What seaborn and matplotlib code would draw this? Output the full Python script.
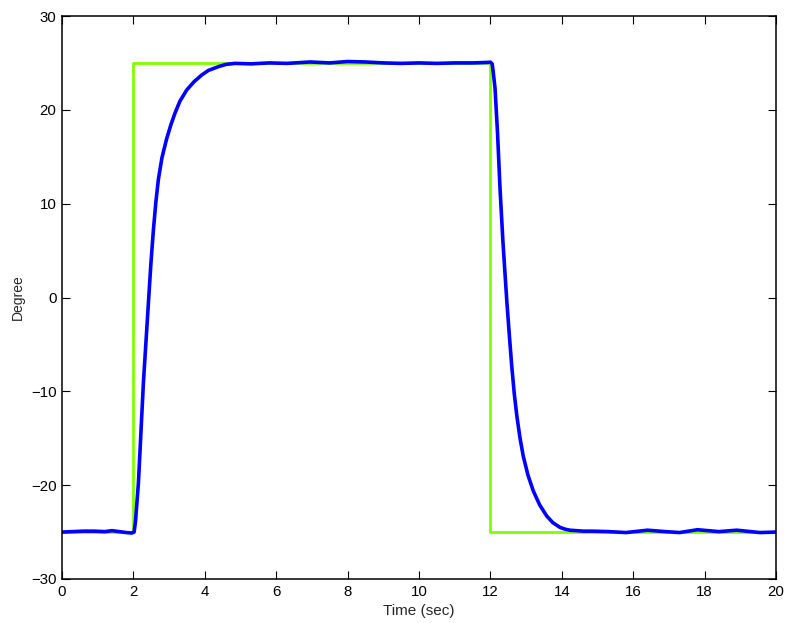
import matplotlib
matplotlib.use("Agg")
import matplotlib.pyplot as plt
import seaborn as sns
import pandas as pd

# Reference (step) signal
ref_time = [0, 2, 2, 12, 12, 20]
ref_deg = [-25, -25, 25, 25, -25, -25]

resp_time = [0, 0.3, 0.6, 0.9, 1.2, 1.4, 1.6, 1.8, 1.95, 2.02, 2.06, 2.14, 2.28,
             2.42, 2.49, 2.56, 2.63, 2.70, 2.80, 2.93, 3.05, 3.16, 3.3, 3.49,
             3.7, 3.91, 4.1, 4.38, 4.6, 4.85, 5.3, 5.8, 6.3, 6.95, 7.5, 8.0,
             8.5, 9.0, 9.5, 10.0, 10.5, 11.0, 11.5, 11.9, 12.0, 12.05, 12.08,
             12.13, 12.2, 12.27, 12.35, 12.46, 12.53, 12.60, 12.67, 12.74, 12.83,
             12.92, 13.05, 13.20, 13.38, 13.58, 13.75, 13.95, 14.1, 14.23, 14.6,
             14.87, 15.3, 15.8, 16.4, 16.9, 17.3, 17.8, 18.4, 18.9, 19.55, 20.0]
resp_deg = [-25.0, -24.95, -24.9, -24.9, -24.95, -24.85, -24.95, -25.05, -25.1,
            -25.0, -23.8, -19.8, -9.1, -0.6, 3.6, 7.2, 10.2, 12.6, 14.9, 16.9,
            18.4, 19.6, 20.9, 22.1, 23.0, 23.7, 24.2, 24.6, 24.85, 24.95, 24.9,
            25.0, 24.95, 25.1, 25.0, 25.15, 25.1, 25.0, 24.95, 25.0, 24.95, 25.0,
            25.0, 25.05, 25.08, 24.9, 24.0, 22.3, 17.5, 11.6, 6.0, -0.4, -4.0,
            -7.4, -10.3, -12.6, -15.0, -16.9, -18.9, -20.6, -22.1, -23.3, -24.0,
            -24.5, -24.7, -24.8, -24.9, -24.9, -24.95, -25.05, -24.8, -24.95,
            -25.05, -24.75, -24.95, -24.8, -25.05, -25.0]

x_ticks = list(range(0, 21, 2))
y_ticks = list(range(-30, 31, 10))

sns.set_style("ticks")
plt.rcParams['font.family'] = ['Liberation Sans', 'DejaVu Sans']
plt.rcParams['lines.solid_joinstyle'] = 'round'

fig = plt.figure(figsize=(7.85, 6.23), dpi=100)
ax = fig.add_axes([62 / 785, 44 / 623, 714 / 785, 563 / 623])

ref_df = pd.DataFrame({"t": ref_time, "v": ref_deg})
resp_df = pd.DataFrame({"t": resp_time, "v": resp_deg})

sns.lineplot(data=ref_df, x="t", y="v", ax=ax, color="#80FF00", lw=2.0,
             estimator=None, sort=False)
sns.lineplot(data=resp_df, x="t", y="v", ax=ax, color="#0000FF", lw=2.6,
             estimator=None, sort=False)

ax.set_xlim(0, 20)
ax.set_ylim(-30, 30)
ax.set_xticks(x_ticks)
ax.set_yticks(y_ticks)
ax.set_xticklabels([str(v) for v in x_ticks])
ax.set_yticklabels([("\u2212" + str(-v)) if v < 0 else str(v) for v in y_ticks])
ax.tick_params(direction="in", length=6, width=0.8, top=True, right=True,
               labelsize=10.8, colors="black", pad=4)
for s in ax.spines.values():
    s.set_visible(True)
    s.set_linewidth(1.1)
    s.set_color("black")
ax.set_xlabel("Time (sec)", fontsize=11, labelpad=4)
ax.set_ylabel("Degree", fontsize=10, labelpad=4)
ax.grid(False)

fig.savefig("out.png", dpi=100)
